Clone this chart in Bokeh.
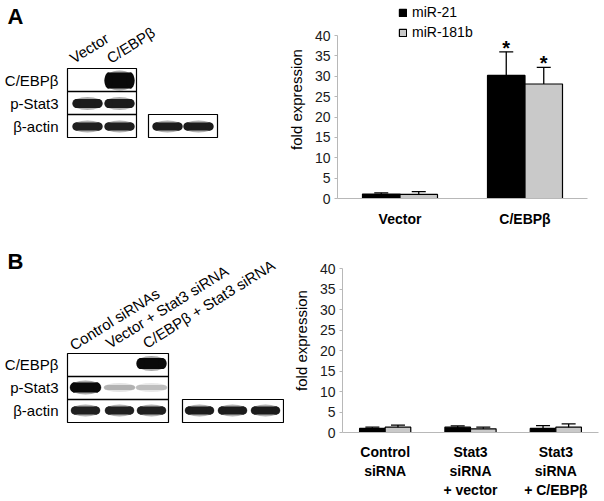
import math
from bokeh.plotting import figure
from bokeh.layouts import row, column
from bokeh.models import (ColumnDataSource, FactorRange, Range1d, Whisker, TeeHead,
                          Legend, LegendItem)
from bokeh.transform import dodge
from bokeh.core.properties import value
from bokeh.embed import file_html
from bokeh.resources import INLINE

FONT = "Liberation Sans"

# ---------------- data ----------------
cats_a = ["Vector", "C/EBPβ"]
mir21_a = [1.1, 30.2]
mir21_a_err = [0.3, 5.8]
mir181_a = [1.0, 28.1]
mir181_a_err = [0.7, 4.1]
star_a = ["", "*"]

cats_b = ["Control\nsiRNA", "Stat3\nsiRNA\n+ vector", "Stat3\nsiRNA\n+ C/EBPβ"]
mir21_b = [1.0, 1.3, 1.0]
mir21_b_err = [0.3, 0.3, 0.7]
mir181_b = [1.3, 0.9, 1.3]
mir181_b_err = [0.5, 0.4, 0.8]
star_b = ["", "", ""]

series_names = ["miR-21", "miR-181b"]
y_ticks = [0, 5, 10, 15, 20, 25, 30, 35, 40]

# western blot data (band intensity 0..1 per lane)
blot_rows = ["C/EBPβ", "p-Stat3", "β-actin"]
lanes_a = ["Vector", "C/EBPβ"]
blot_a = {"C/EBPβ": [0.0, 1.0], "p-Stat3": [0.92, 0.92], "β-actin": [0.9, 0.9]}
blot_a_extra = [0.92, 0.92]
lanes_b = ["Control siRNAs", "Vector + Stat3 siRNA", "C/EBPβ + Stat3 siRNA"]
blot_b = {"C/EBPβ": [0.0, 0.0, 1.0], "p-Stat3": [1.0, 0.25, 0.2], "β-actin": [0.9, 0.9, 0.9]}
blot_b_extra = [0.92, 0.92, 0.92]

BW = 0.3
TXT = value(FONT)


def bar_panel(cats, v1, e1, v2, e2, stars, width, height, y_end,
              bl, br, bb, legend_loc, axis_standoff, label_standoff):
    p = figure(x_range=FactorRange(*cats, range_padding=0, factor_padding=0),
               y_range=Range1d(0, y_end), width=width, height=height,
               output_backend="svg", toolbar_location=None,
               min_border_left=bl, min_border_right=br, min_border_top=0,
               min_border_bottom=bb)
    src = ColumnDataSource(dict(
        cat=cats, v1=v1, v2=v2,
        u1=[a + b for a, b in zip(v1, e1)], l1=[a - b for a, b in zip(v1, e1)],
        u2=[a + b for a, b in zip(v2, e2)], l2=[a - b for a, b in zip(v2, e2)],
        star=stars))
    r1 = p.vbar(x=dodge("cat", -BW / 2, range=p.x_range), top="v1", width=BW,
                source=src, fill_color="black", line_color="black", line_width=1.2)
    r2 = p.vbar(x=dodge("cat", BW / 2, range=p.x_range), top="v2", width=BW,
                source=src, fill_color="#c9c9c9", line_color="black", line_width=1.2)
    for off, u, l in ((-BW / 2, "u1", "l1"), (BW / 2, "u2", "l2")):
        w = Whisker(base=dodge("cat", off, range=p.x_range), upper=u, lower=l,
                    source=src, line_color="black", line_width=1.3,
                    upper_head=TeeHead(size=14, line_color="black", line_width=1.3),
                    lower_head=TeeHead(size=14, line_color="black", line_width=1.3))
        p.add_layout(w)
        p.text(x=dodge("cat", off, range=p.x_range), y=u, text="star", source=src,
               text_font=TXT, text_font_size="20px", text_font_style="bold",
               text_align="center", text_baseline="bottom", y_offset=7,
               text_color="black")
    p.grid.visible = False
    p.outline_line_color = None
    p.yaxis.ticker = y_ticks
    p.yaxis.bounds = (0, 40)
    p.yaxis.axis_label = "fold expression"
    p.yaxis.axis_label_text_font = FONT
    p.yaxis.axis_label_text_font_style = "normal"
    p.yaxis.axis_label_text_font_size = "15px"
    p.yaxis.axis_label_text_color = "black"
    p.yaxis.axis_label_standoff = axis_standoff
    p.yaxis.major_label_text_font = FONT
    p.yaxis.major_label_text_font_size = "14px"
    p.yaxis.major_label_text_color = "#1a1a1a"
    p.yaxis.major_label_standoff = 4
    p.yaxis.major_tick_out = 3
    p.yaxis.major_tick_in = 0
    p.yaxis.minor_tick_out = 0
    p.yaxis.minor_tick_in = 0
    p.axis.axis_line_color = "#b8b8b8"
    p.axis.major_tick_line_color = "#b8b8b8"
    p.xaxis.major_tick_out = 0
    p.xaxis.major_tick_in = 0
    p.xaxis.major_label_text_font = FONT
    p.xaxis.major_label_text_font_size = "14px"
    p.xaxis.major_label_text_font_style = "bold"
    p.xaxis.major_label_text_color = "black"
    p.xaxis.major_label_standoff = label_standoff
    if legend_loc is not None:
        lg = Legend(items=[LegendItem(label=series_names[0], renderers=[r1]),
                           LegendItem(label=series_names[1], renderers=[r2])],
                    location=legend_loc, glyph_width=9, glyph_height=9,
                    label_height=16, label_standoff=5, spacing=4, padding=0,
                    margin=0, border_line_color=None, background_fill_alpha=0,
                    label_text_font=FONT, label_text_font_size="14px",
                    label_text_color="black")
        p.add_layout(lg)
    return p


def blot_panel(w, y0, frame_h, bb, letter, letter_y, lanes, lane_label_pos, boxes,
               row_edges, band_specs, row_label_ys, angle_deg):
    p = figure(x_range=Range1d(0, w), y_range=Range1d(y0 + frame_h, y0),
               width=w, height=frame_h + bb, output_backend="svg",
               toolbar_location=None, min_border_left=0, min_border_right=0,
               min_border_top=0, min_border_bottom=bb)
    p.axis.visible = False
    p.grid.visible = False
    p.outline_line_color = None
    # panel letter
    p.text(x=[7], y=[letter_y], text=[letter], text_font=TXT, text_font_size="22px",
           text_font_style="bold", text_baseline="middle", text_align="left",
           text_color="black")
    # bands: (xc, yc, width, height, intensity)
    for xc, yc, bw_, bh, inten in band_specs:
        if inten <= 0:
            continue
        g = int(235 - 225 * inten)
        col = "#%02x%02x%02x" % (g, g, g)
        p.ellipse(x=[xc], y=[yc], width=[bw_ + 3], height=[bh + 4], fill_color=col,
                  fill_alpha=0.35, line_color=None)
        p.rect(x=[xc], y=[yc], width=[bw_ - 4], height=[bh], fill_color=col,
               line_color=None)
        p.ellipse(x=[xc - bw_ / 2 + 3], y=[yc], width=[8], height=[bh], fill_color=col,
                  line_color=None)
        p.ellipse(x=[xc + bw_ / 2 - 3], y=[yc], width=[8], height=[bh], fill_color=col,
                  line_color=None)
    # boxes
    for (bx0, bx1, by0, by1) in boxes:
        p.quad(left=[bx0], right=[bx1], top=[by0], bottom=[by1], fill_alpha=0,
               line_color="black", line_width=1.2)
    for (sx0, sx1, sy) in row_edges:
        p.segment(x0=[sx0], x1=[sx1], y0=[sy], y1=[sy], line_color="black",
                  line_width=1.6)
    # row labels
    p.text(x=[58] * len(blot_rows), y=row_label_ys, text=blot_rows, text_font=TXT,
           text_font_size="15px", text_align="right", text_baseline="middle",
           text_color="black")
    # lane labels (rotated)
    xs = [a for a, b in lane_label_pos]
    ys = [b for a, b in lane_label_pos]
    p.text(x=xs, y=ys, text=lanes, angle=math.radians(angle_deg), text_font=TXT,
           text_font_size="15px", text_align="left", text_baseline="bottom",
           text_color="black")
    return p


BLOT_W = 284

# ---- panel A blot ----
bands_a = []
for i, xc in enumerate([87, 119]):
    bands_a.append((xc, 80, 28, 16, blot_a["C/EBPβ"][i]))
    bands_a.append((xc, 103, 28, 9, blot_a["p-Stat3"][i]))
    bands_a.append((xc, 126, 28, 8, blot_a["β-actin"][i]))
for i, xc in enumerate([167, 198]):
    bands_a.append((xc, 126, 28, 8, blot_a_extra[i]))
blotA = blot_panel(BLOT_W, 0, 198, 50, "A", 16, lanes_a, [(75, 66), (112, 66)],
                   [(67, 136, 68, 137), (148, 217, 114, 137)],
                   [(67, 136, 91), (67, 136, 114)], bands_a, [80, 103, 126], 32)

# ---- panel B blot ----
bands_b = []
for i, xc in enumerate([85, 119, 151]):
    bands_b.append((xc, 363, 28, 11, blot_b["C/EBPβ"][i]))
    bands_b.append((xc, 387, 29, 10 if blot_b["p-Stat3"][i] > 0.5 else 5, blot_b["p-Stat3"][i]))
    bands_b.append((xc, 410, 27, 8, blot_b["β-actin"][i]))
for i, xc in enumerate([199, 232, 265]):
    bands_b.append((xc, 410, 27, 8, blot_b_extra[i]))
blotB = blot_panel(BLOT_W, 248, 184, 69, "B", 261, lanes_b,
                   [(75, 353), (111, 351), (148, 351)],
                   [(67, 168, 353, 422), (182, 283, 399, 422)],
                   [(67, 168, 376), (67, 168, 399)], bands_b, [364, 387, 410], 32)

# ---- bar charts ----
barA = bar_panel(cats_a, mir21_a, mir21_a_err, mir181_a, mir181_a_err, star_a,
                 604 - BLOT_W, 248, 48.6, 47, 17, 50, (61, 158), 7, 12)
barB = bar_panel(cats_b, mir21_b, mir21_b_err, mir181_b, mir181_b_err, star_b,
                 604 - BLOT_W, 253, 44.9, 58, 6, 69, None, 7, 11)

layout = column(row(blotA, barA), row(blotB, barB))

open("out.html", "w").write(file_html(layout, INLINE))
